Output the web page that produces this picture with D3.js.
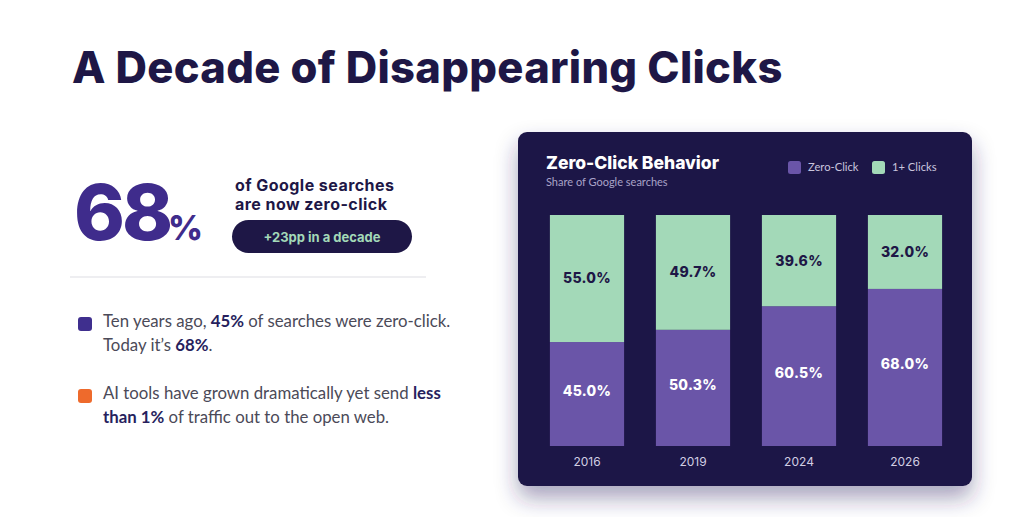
<!DOCTYPE html>
<html>
<head>
<meta charset="utf-8">
<script src="https://cdn.jsdelivr.net/npm/d3@7"></script>
<style>
  html, body { margin: 0; padding: 0; background: #ffffff; }
  svg { display: block; }
</style>
</head>
<body>
<div id="main-chart"></div>
<script>
// chart data
var years = ["2016", "2019", "2024", "2026"];
var zeroClick = [45.0, 50.3, 60.5, 68.0];
var oneClick = [55.0, 49.7, 39.6, 32.0];
var seriesNames = ["Zero-Click", "1+ Clicks"];

var navy = "#1e1746";
var purple = "#6a55a8";
var green = "#a3d9b8";
var headFont = "Inter, 'Open Sans', sans-serif";
var bodyFont = "Lato, 'Open Sans', sans-serif";

var svg = d3.select("#main-chart")
  .append("svg")
  .attr("width", 1024)
  .attr("height", 517);

var defs = svg.append("defs");
var shadow = defs.append("filter")
  .attr("id", "card-shadow")
  .attr("x", "-20%").attr("y", "-20%")
  .attr("width", "140%").attr("height", "150%");
shadow.append("feDropShadow")
  .attr("dx", 0).attr("dy", 12)
  .attr("stdDeviation", 11)
  .attr("flood-color", "#2a2060")
  .attr("flood-opacity", 0.42);

// title
svg.append("text")
  .attr("x", 72).attr("y", 83)
  .attr("font-family", headFont)
  .attr("font-weight", 800)
  .attr("font-size", 43.5)
  .attr("letter-spacing", 0.3)
  .attr("fill", navy)
  .text("A Decade of Disappearing Clicks");

// big stat
var stat = svg.append("text")
  .attr("x", 74).attr("y", 240)
  .attr("font-family", headFont)
  .attr("font-weight", 800)
  .attr("fill", "#3f2c8c");
stat.append("tspan").attr("font-size", 77).attr("letter-spacing", -3).text("68");
stat.append("tspan").attr("font-size", 34).attr("dx", -2).text("%");

// two-line caption next to the stat
var sub = svg.append("text")
  .attr("font-family", headFont)
  .attr("font-weight", 700)
  .attr("font-size", 16)
  .attr("letter-spacing", 0.45)
  .attr("fill", navy);
sub.append("tspan").attr("x", 235).attr("y", 191).text("of Google searches");
sub.append("tspan").attr("x", 235).attr("y", 210).text("are now zero-click");

svg.append("rect")
  .attr("x", 232).attr("y", 220)
  .attr("width", 180).attr("height", 33)
  .attr("rx", 16.5)
  .attr("fill", navy);
svg.append("text")
  .attr("x", 322).attr("y", 237)
  .attr("dy", "0.35em")
  .attr("text-anchor", "middle")
  .attr("font-family", headFont)
  .attr("font-weight", 700)
  .attr("font-size", 13)
  .attr("fill", green)
  .text("+23pp in a decade");

svg.append("line")
  .attr("x1", 70).attr("x2", 426)
  .attr("y1", 277).attr("y2", 277)
  .attr("stroke", "#e8e8ec")
  .attr("stroke-width", 1.5);

// bullet points
var bullets = [
  { color: "#3f2f8e", y: 317, lines: [
    [["Ten years ago, ", false], ["45%", true], [" of searches were zero-click.", false]],
    [["Today it\u2019s ", false], ["68%", true], [".", false]]
  ]},
  { color: "#ee6a2c", y: 389, lines: [
    [["AI tools have grown dramatically yet send ", false], ["less", true]],
    [["than 1%", true], [" of traffic out to the open web.", false]]
  ]}
];

bullets.forEach(function(b) {
  svg.append("rect")
    .attr("x", 78).attr("y", b.y)
    .attr("width", 14).attr("height", 14)
    .attr("rx", 3)
    .attr("fill", b.color);
  b.lines.forEach(function(line, i) {
    var t = svg.append("text")
      .attr("x", 103)
      .attr("y", b.y + 10 + i * 24)
      .attr("font-family", bodyFont)
      .attr("font-size", 16.8)
      .attr("fill", "#4b4a58");
    line.forEach(function(part) {
      t.append("tspan")
        .attr("font-weight", part[1] ? 700 : 400)
        .attr("fill", part[1] ? "#271f5e" : "#4b4a58")
        .text(part[0]);
    });
  });
});

// chart card
var card = { x: 518, y: 132, w: 454, h: 354 };
svg.append("rect")
  .attr("x", card.x).attr("y", card.y)
  .attr("width", card.w).attr("height", card.h)
  .attr("rx", 9)
  .attr("fill", navy)
  .attr("filter", "url(#card-shadow)");

svg.append("text")
  .attr("x", 546).attr("y", 169)
  .attr("font-family", headFont)
  .attr("font-weight", 800)
  .attr("font-size", 17.5)
  .attr("fill", "#ffffff")
  .text("Zero-Click Behavior");
svg.append("text")
  .attr("x", 546).attr("y", 186)
  .attr("font-family", bodyFont)
  .attr("font-size", 11)
  .attr("fill", "#a9a3c8")
  .text("Share of Google searches");

// legend
var legendX = [788, 872];
var legend = svg.append("g").selectAll("g")
  .data(seriesNames)
  .join("g")
  .attr("transform", function(d, i) { return "translate(" + legendX[i] + ",161)"; });
legend.append("rect")
  .attr("width", 13).attr("height", 13)
  .attr("rx", 2.5)
  .attr("fill", function(d, i) { return i === 0 ? purple : green; });
legend.append("text")
  .attr("x", 20).attr("y", 6.5)
  .attr("dy", "0.35em")
  .attr("font-family", bodyFont)
  .attr("font-size", 11.2)
  .attr("fill", "#c9c5de")
  .text(function(d) { return d; });

// scales
var x = d3.scaleBand()
  .domain(years)
  .range([534, 958])
  .paddingInner(0.3)
  .paddingOuter(0.15);

var y = d3.scaleLinear()
  .domain([0, 100])
  .range([446, 215]);

var rows = years.map(function(yr, i) {
  return { year: yr, zero: zeroClick[i], one: oneClick[i] };
});

var stack = d3.stack().keys(["zero", "one"])(rows);

var layers = svg.append("g").selectAll("g")
  .data(stack)
  .join("g")
  .attr("fill", function(d, i) { return i === 0 ? purple : green; });

layers.selectAll("rect")
  .data(function(d) { return d; })
  .join("rect")
  .attr("x", function(d) { return x(d.data.year); })
  .attr("y", function(d) { return y(Math.min(d[1], 100)); })
  .attr("width", x.bandwidth())
  .attr("height", function(d) { return y(d[0]) - y(Math.min(d[1], 100)); });

layers.each(function(layer, li) {
  d3.select(this).selectAll("text")
    .data(layer)
    .join("text")
    .attr("x", function(d) { return x(d.data.year) + x.bandwidth() / 2; })
    .attr("y", function(d) { return (y(d[0]) + y(Math.min(d[1], 100))) / 2 - (li === 0 ? 3 : 0); })
    .attr("dy", "0.35em")
    .attr("text-anchor", "middle")
    .attr("font-family", headFont)
    .attr("font-weight", 800)
    .attr("font-size", 14)
    .attr("letter-spacing", 0.3)
    .attr("fill", li === 0 ? "#ffffff" : navy)
    .text(function(d) { return (d[1] - d[0]).toFixed(1) + "%"; });
});

// x axis
var xAxis = svg.append("g")
  .attr("transform", "translate(0,446)")
  .call(d3.axisBottom(x).tickSize(0).tickPadding(11));
xAxis.select(".domain").remove();
xAxis.selectAll("text")
  .attr("font-family", headFont)
  .attr("font-size", 12)
  .attr("fill", "#d2cee3");
</script>
</body>
</html>
